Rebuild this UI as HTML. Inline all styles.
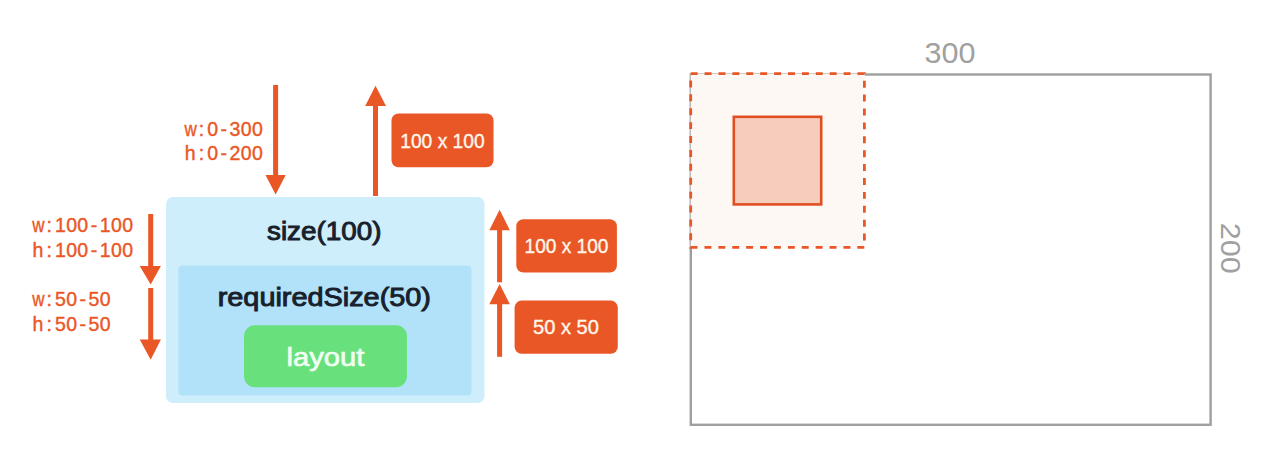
<!DOCTYPE html>
<html>
<head>
<meta charset="utf-8">
<style>
html,body{margin:0;padding:0;background:#fff;width:1280px;height:462px;overflow:hidden;}
svg{display:block;}
text{font-family:"Liberation Sans",sans-serif;}
.mono{font-size:19.5px;fill:#ea5726;stroke:#ea5726;stroke-width:0.4px;text-anchor:middle;}
.ttl{font-size:26px;fill:#18202b;stroke:#18202b;stroke-width:0.95px;}
.lbl{font-size:19.5px;fill:#fff7ec;stroke:#fff7ec;stroke-width:0.35px;}
</style>
</head>
<body>
<svg width="1280" height="462" viewBox="0 0 1280 462">
  <!-- Left diagram boxes -->
  <rect x="166" y="197" width="318.5" height="206" rx="7" fill="#cfeefb"/>
  <rect x="178.3" y="265.5" width="293.2" height="130" rx="4" fill="#b1e2f9"/>
  <rect x="244" y="325.2" width="163" height="62" rx="11" fill="#68e07c"/>

  <text class="ttl" x="267" y="240" textLength="114.5" lengthAdjust="spacingAndGlyphs">size(100)</text>
  <text class="ttl" x="217.7" y="306" textLength="213.3" lengthAdjust="spacingAndGlyphs">requiredSize(50)</text>
  <text x="286.6" y="365.7" font-size="26.5px" fill="#f0fff3" stroke="#f0fff3" stroke-width="0.7" textLength="77.8" lengthAdjust="spacingAndGlyphs">layout</text>

  <!-- mono labels -->
  <text class="mono" transform="translate(190.5,135.5) scale(0.87,1)" x="0" y="0">w</text>
  <text class="mono" x="201.4 212.6 223.8 235.0 246.2 257.4" y="135.5">:0-300</text>
  <text class="mono" x="190.2" y="160.2">h</text>
  <text class="mono" x="201.4 212.6 223.8 235.0 246.2 257.4" y="160.2">:0-200</text>
  <text class="mono" transform="translate(38.3,232.4) scale(0.87,1)" x="0" y="0">w</text>
  <text class="mono" x="49.2 60.4 71.6 82.8 94.0 105.2 116.4 127.6" y="232.4">:100-100</text>
  <text class="mono" x="38.0" y="256.8">h</text>
  <text class="mono" x="49.2 60.4 71.6 82.8 94.0 105.2 116.4 127.6" y="256.8">:100-100</text>
  <text class="mono" transform="translate(38.3,306.4) scale(0.87,1)" x="0" y="0">w</text>
  <text class="mono" x="49.2 60.4 71.6 82.8 94.0 105.2" y="306.4">:50-50</text>
  <text class="mono" x="38.0" y="330.9">h</text>
  <text class="mono" x="49.2 60.4 71.6 82.8 94.0 105.2" y="330.9">:50-50</text>

  <!-- arrows -->
  <g fill="#ea5726">
    <!-- top down arrow -->
    <rect x="273.1" y="85" width="5" height="92"/>
    <polygon points="265.5,175 285.7,175 275.6,194.6"/>
    <!-- top up arrow -->
    <rect x="373" y="104" width="5" height="92"/>
    <polygon points="365.2,106 386,106 375.5,85.7"/>
    <!-- left down arrows -->
    <rect x="148.2" y="214" width="5" height="54"/>
    <polygon points="139.7,266 160.9,266 150.7,284.4"/>
    <rect x="148.2" y="288" width="5" height="53"/>
    <polygon points="139.7,339.5 160.9,339.5 150.7,359.7"/>
    <!-- right up arrows -->
    <rect x="497.1" y="228" width="5" height="54.3"/>
    <polygon points="489.3,230.3 509.9,230.3 499.6,209.7"/>
    <rect x="497.1" y="302" width="5" height="54.8"/>
    <polygon points="489.3,304.2 509.9,304.2 499.6,284"/>
    <!-- label boxes -->
    <rect x="391.5" y="113.4" width="102" height="53.8" rx="7"/>
    <rect x="516.3" y="219.3" width="100.6" height="53.2" rx="7"/>
    <rect x="514.6" y="300.6" width="103.2" height="53.1" rx="7"/>
  </g>
  <text class="lbl" x="400.2" y="147.7" textLength="84.5" lengthAdjust="spacingAndGlyphs">100 x 100</text>
  <text class="lbl" x="524.5" y="253" textLength="84" lengthAdjust="spacingAndGlyphs">100 x 100</text>
  <text class="lbl" x="533" y="334" textLength="66" lengthAdjust="spacingAndGlyphs">50 x 50</text>

  <!-- Right diagram -->
  <rect x="690.8" y="74.5" width="519.8" height="350.3" fill="none" stroke="#9f9f9f" stroke-width="2.4"/>
  <text x="924.4" y="62.5" font-size="30px" fill="#a0a0a0" textLength="51" lengthAdjust="spacingAndGlyphs">300</text>
  <text transform="translate(1221.4,222.8) rotate(90)" x="0" y="0" font-size="27.5px" fill="#a0a0a0" textLength="51" lengthAdjust="spacingAndGlyphs">200</text>

  <rect x="690.7" y="73.7" width="174" height="174" fill="#fef8f4"/>
  <rect x="690.7" y="73.7" width="173.7" height="173.7" fill="none" stroke="#ea5726" stroke-width="2.8" stroke-dasharray="6.95 6.95"/>
  <rect x="733.8" y="116.8" width="87.4" height="87.6" fill="#f6cdbd" stroke="#e04f22" stroke-width="2.6"/>
</svg>
</body>
</html>
